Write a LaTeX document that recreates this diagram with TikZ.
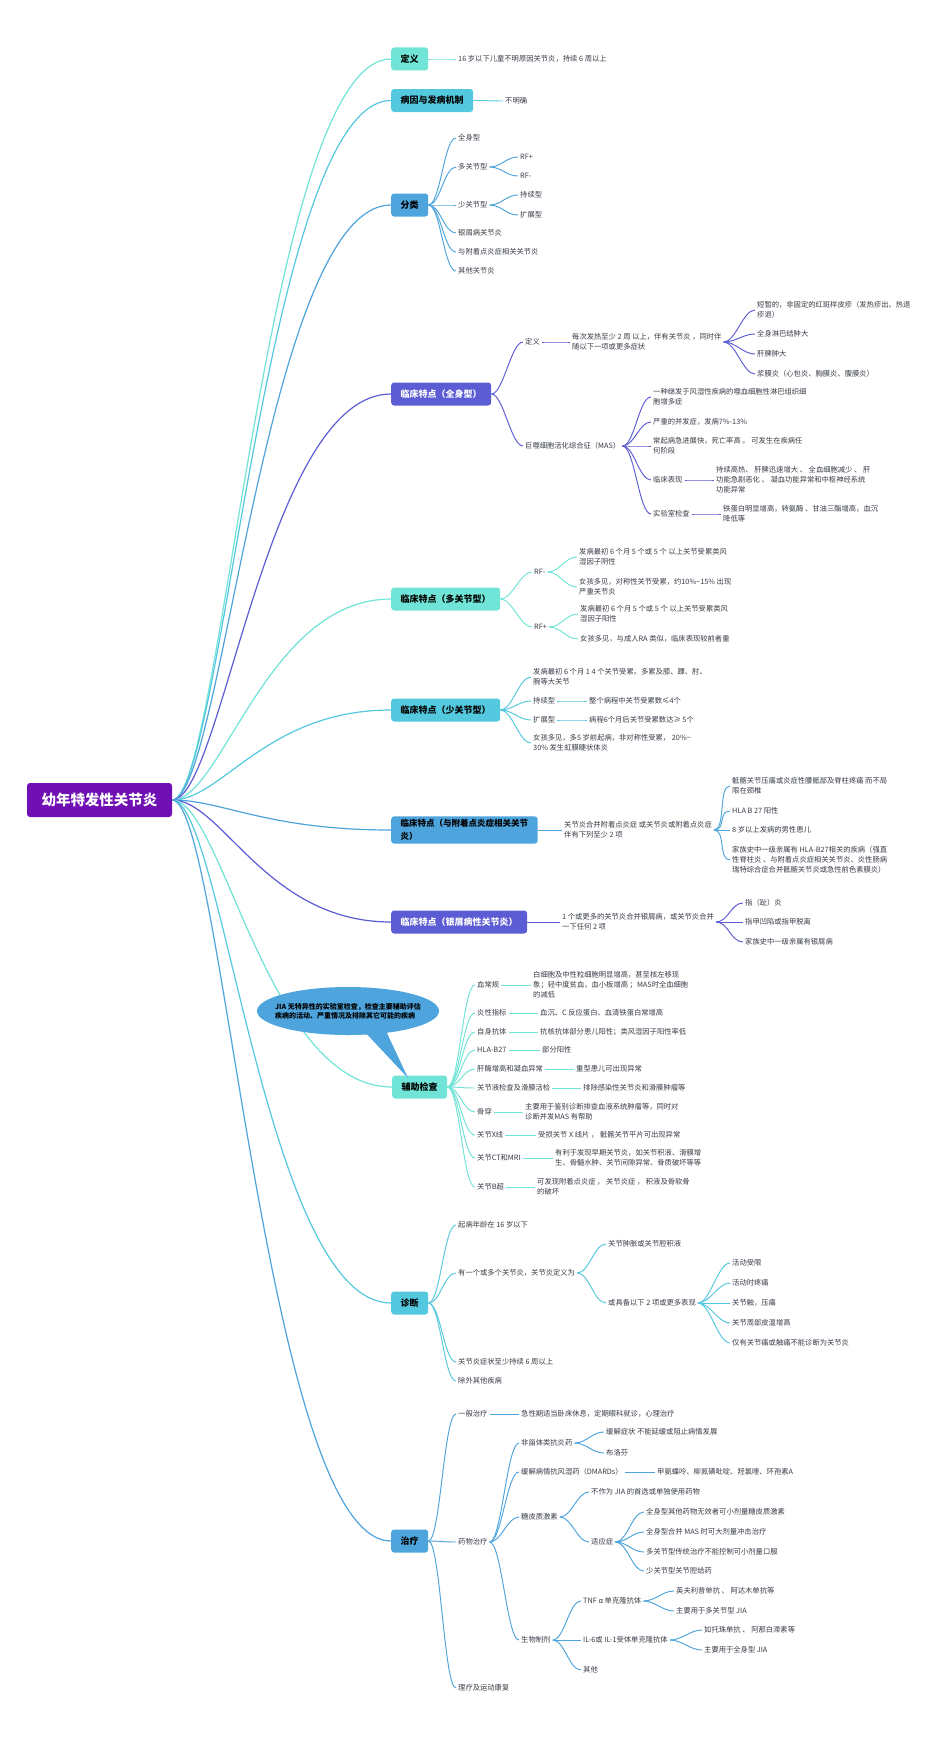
\documentclass[tikz,border=0pt]{standalone}
\usepackage{fontspec}
\setmainfont{Noto Sans CJK SC}
\usetikzlibrary{backgrounds}
\definecolor{cTeal}{RGB}{112,228,214}
\definecolor{cCyan}{RGB}{84,200,222}
\definecolor{cBlue}{RGB}{78,164,220}
\definecolor{cInd}{RGB}{92,92,212}
\definecolor{cRoot}{RGB}{112,16,180}
\definecolor{cTxt}{RGB}{55,60,70}
\tikzset{
  mbox/.style={rounded corners=3pt, anchor=west, inner xsep=9.5pt, inner ysep=3pt, minimum height=23pt, font=\bfseries\fontsize{9}{13}\selectfont, text=black, align=left},
  leaf/.style={anchor=west, inner xsep=2pt, inner ysep=1pt, align=left, text=cTxt, font=\fontsize{7.3}{10}\selectfont},
  lk/.style={line width=0.95pt},
  rootbox/.style={rounded corners=3pt, fill=cRoot, text=white, font=\bfseries\fontsize{14.5}{16}\selectfont, minimum width=145pt, minimum height=34pt},
  bubtext/.style={align=left, text=black, font=\bfseries\fontsize{7}{9.3}\selectfont}
}
\newcommand\lk[3]{\draw[lk,#1] (#2.east) .. controls +(12,0) and +(-12,0) .. (#3.west);}
\newcommand\rk[2]{\draw[line width=1.2pt,#1] (root.east) .. controls +(50,0) and +(-125,0) .. (#2.west);}
\begin{document}
\begin{tikzpicture}[x=1pt,y=-1pt]
\useasboundingbox (0,0) rectangle (950,1745);
% root
\node[rootbox] (root) at (99.5,800) {幼年特发性关节炎};
% main boxes
\node[mbox, fill=cTeal] (b1) at (391,59) {定义};
\node[mbox, fill=cCyan] (b2) at (391,100.5) {病因与发病机制};
\node[mbox, fill=cBlue] (b3) at (391,205) {分类};
\node[mbox, fill=cInd, text=white] (b4) at (391,394) {临床特点（全身型）};
\node[mbox, fill=cTeal] (b5) at (391,599) {临床特点（多关节型）};
\node[mbox, fill=cCyan] (b6) at (391,710) {临床特点（少关节型）};
\node[mbox, fill=cBlue, font=\bfseries\fontsize{8.5}{13}\selectfont] (b7) at (391,830) {临床特点（与附着点炎症相关关节\\炎）};
\node[mbox, fill=cInd, text=white] (b8) at (391,922) {临床特点（银屑病性关节炎）};
\node[mbox, fill=cTeal] (b9) at (392,1087) {辅助检查};
\node[mbox, fill=cCyan] (b10) at (391,1303) {诊断};
\node[mbox, fill=cBlue] (b11) at (391,1541) {治疗};
% branch 1,2
\node[leaf] (d1) at (456,59) {16 岁以下儿童不明原因关节炎，持续 6 周以上};
\node[leaf] (e1) at (503,101) {不明确};
% branch 3
\node[leaf] (c1) at (456,138) {全身型};
\node[leaf] (c2) at (456,167) {多关节型};
\node[leaf] (c21) at (518,157) {RF+};
\node[leaf] (c22) at (518,176) {RF-};
\node[leaf] (c3) at (456,205) {少关节型};
\node[leaf] (c31) at (518,195) {持续型};
\node[leaf] (c32) at (518,215) {扩展型};
\node[leaf] (c4) at (456,233) {银屑病关节炎};
\node[leaf] (c5) at (456,252) {与附着点炎症相关关节炎};
\node[leaf] (c6) at (456,271) {其他关节炎};
% branch 4
\node[leaf] (s1) at (523,342) {定义};
\node[leaf] (s11) at (570,342) {每次发热至少 2 周 以上，伴有关节炎 ，同时伴\\随以下一项或更多症状};
\node[leaf] (s111) at (755,310) {短暂的，非固定的红斑样皮疹（发热疹出、热退\\疹退）};
\node[leaf] (s112) at (755,334) {全身淋巴结肿大};
\node[leaf] (s113) at (755,354) {肝脾肿大};
\node[leaf] (s114) at (755,374) {浆膜炎（心包炎、胸膜炎、腹膜炎）};
\node[leaf] (s2) at (523,446) {巨噬细胞活化综合征（MAS）};
\node[leaf] (s21) at (651,397) {一种继发于风湿性疾病的噬血细胞性淋巴组织细\\胞增多症};
\node[leaf] (s22) at (651,422) {严重的并发症，发病7\%-13\%};
\node[leaf] (s23) at (651,446) {常起病急进展快，死亡率高 。 可发生在疾病任\\何阶段};
\node[leaf] (s24) at (651,480) {临床表现};
\node[leaf] (s241) at (714,480) {持续高热、 肝脾迅速增大 、 全血细胞减少 、 肝\\功能急剧恶化 、 凝血功能异常和中枢神经系统\\功能异常};
\node[leaf] (s25) at (651,514) {实验室检查};
\node[leaf] (s251) at (721,514) {铁蛋白明显增高，转氨酶 、甘油三酯增高，血沉\\降低等};
% branch 5
\node[leaf] (p1) at (532,572) {RF-};
\node[leaf] (p11) at (577,557) {发病最初 6 个月 5 个或 5 个 以上关节受累类风\\湿因子阴性};
\node[leaf] (p12) at (577,587) {女孩多见，对称性关节受累，约10\%\textasciitilde15\% 出现\\严重关节炎};
\node[leaf] (p2) at (532,627) {RF+};
\node[leaf] (p21) at (578,614) {发病最初 6 个月 5 个或 5 个 以上关节受累类风\\湿因子阳性};
\node[leaf] (p22) at (578,639) {女孩多见，与成人RA 类似，临床表现较前者重};
% branch 6
\node[leaf] (o1) at (531,677) {发病最初 6 个月 1 4 个关节受累。多累及膝、踝、肘、\\腕等大关节};
\node[leaf] (o2) at (531,701) {持续型};
\node[leaf] (o21) at (587,701) {整个病程中关节受累数≤4个};
\node[leaf] (o3) at (531,720) {扩展型};
\node[leaf] (o31) at (587,720) {病程6个月后关节受累数达≥ 5个};
\node[leaf] (o4) at (531,743) {女孩多见，多5 岁前起病，非对称性受累， 20\%\textasciitilde\\30\% 发生虹膜睫状体炎};
% branch 7
\node[leaf] (n1) at (562,830) {关节炎合并附着点炎症 或关节炎或附着点炎症\\伴有下列至少 2 项};
\node[leaf] (n11) at (730,786) {骶髂关节压痛或炎症性腰骶部及脊柱疼痛 而不局\\限在颈椎};
\node[leaf] (n12) at (730,811) {HLA B 27 阳性};
\node[leaf] (n13) at (730,830) {8 岁以上发病的男性患儿};
\node[leaf] (n14) at (730,860) {家族史中一级亲属有 HLA-B27相关的疾病（强直\\性脊柱炎 、与附着点炎症相关关节炎、炎性肠病\\瑞特综合症合并骶髂关节炎或急性前色素膜炎）};
% branch 8
\node[leaf] (q1) at (560,922) {1 个或更多的关节炎合并银屑病，或关节炎合并\\一下任何 2 项};
\node[leaf] (q11) at (743,903) {指（趾）炎};
\node[leaf] (q12) at (743,922) {指甲凹陷或指甲脱离};
\node[leaf] (q13) at (743,942) {家族史中一级亲属有银屑病};
% branch 9
\node[leaf] (a1) at (475,985) {血常规};
\node[leaf] (a11) at (531,985) {白细胞及中性粒细胞明显增高，甚至核左移现\\象；轻中度贫血，血小板增高 ；MAS时全血细胞\\的减低};
\node[leaf] (a2) at (475,1013) {炎性指标};
\node[leaf] (a21) at (538,1013) {血沉、C 反应蛋白、血清铁蛋白常增高};
\node[leaf] (a3) at (475,1032) {自身抗体};
\node[leaf] (a31) at (538,1032) {抗核抗体部分患儿阳性；类风湿因子阳性率低};
\node[leaf] (a4) at (475,1050) {HLA-B27};
\node[leaf] (a41) at (540,1050) {部分阳性};
\node[leaf] (a5) at (475,1069) {肝酶增高和凝血异常};
\node[leaf] (a51) at (574,1069) {重型患儿可出现异常};
\node[leaf] (a6) at (475,1088) {关节液检查及滑膜活检};
\node[leaf] (a61) at (581,1088) {排除感染性关节炎和滑膜肿瘤等};
\node[leaf] (a7) at (475,1112) {骨穿};
\node[leaf] (a71) at (523,1112) {主要用于鉴别诊断排查血液系统肿瘤等，同时对\\诊断并发MAS 有帮助};
\node[leaf] (a8) at (475,1135) {关节X线};
\node[leaf] (a81) at (536,1135) {受损关节 X 线片 ， 骶髂关节平片可出现异常};
\node[leaf] (a9) at (475,1158) {关节CT和MRI};
\node[leaf] (a91) at (553,1158) {有利于发现早期关节炎，如关节积液、滑膜增\\生、骨髓水肿、关节间隙异常、骨质破坏等等};
\node[leaf] (a10) at (475,1187) {关节B超};
\node[leaf] (a101) at (535,1187) {可发现附着点炎症 ， 关节炎症 ， 积液及骨软骨\\的破坏};
% branch 10
\node[leaf] (g1) at (456,1225) {起病年龄在 16 岁以下};
\node[leaf] (g2) at (456,1273) {有一个或多个关节炎，关节炎定义为};
\node[leaf] (g21) at (606,1244) {关节肿胀或关节腔积液};
\node[leaf] (g22) at (606,1303) {或具备以下 2 项或更多表现};
\node[leaf] (g221) at (730,1263) {活动受限};
\node[leaf] (g222) at (730,1283) {活动时疼痛};
\node[leaf] (g223) at (730,1303) {关节触，压痛};
\node[leaf] (g224) at (730,1323) {关节周部皮温增高};
\node[leaf] (g225) at (730,1343) {仅有关节痛或触痛不能诊断为关节炎};
\node[leaf] (g3) at (456,1362) {关节炎症状至少持续 6 周以上};
\node[leaf] (g4) at (456,1381) {除外其他疾病};
% branch 11
\node[leaf] (t1) at (456,1414) {一般治疗};
\node[leaf] (t11) at (519,1414) {急性期适当卧床休息，定期眼科就诊，心理治疗};
\node[leaf] (t2) at (456,1542) {药物治疗};
\node[leaf] (t21) at (519,1443) {非甾体类抗炎药};
\node[leaf] (t211) at (604,1432) {缓解症状 不能延缓或阻止病情发展};
\node[leaf] (t212) at (604,1453) {布洛芬};
\node[leaf] (t22) at (519,1472) {缓解病情抗风湿药（DMARDs）};
\node[leaf] (t221) at (655,1472) {甲氨蝶呤、柳氮磺吡啶、羟氯喹、环孢素A};
\node[leaf] (t23) at (519,1517) {糖皮质激素};
\node[leaf] (t231) at (589,1492) {不作为 JIA 的首选或单独使用药物};
\node[leaf] (t232) at (589,1542) {适应症};
\node[leaf] (t2321) at (644,1512) {全身型其他药物无效者可小剂量糖皮质激素};
\node[leaf] (t2322) at (644,1532) {全身型合并 MAS 时可大剂量冲击治疗};
\node[leaf] (t2323) at (644,1552) {多关节型传统治疗不能控制可小剂量口服};
\node[leaf] (t2324) at (644,1571) {少关节型关节腔给药};
\node[leaf] (t24) at (519,1640) {生物制剂};
\node[leaf] (t241) at (581,1601) {TNF α 单克隆抗体};
\node[leaf] (t2411) at (674,1591) {英夫利昔单抗 、 阿达木单抗等};
\node[leaf] (t2412) at (674,1611) {主要用于多关节型 JIA};
\node[leaf] (t242) at (581,1640) {IL-6或 IL-1受体单克隆抗体};
\node[leaf] (t2421) at (702,1630) {如托珠单抗 、 阿那白滞素等};
\node[leaf] (t2422) at (702,1650) {主要用于全身型 JIA};
\node[leaf] (t243) at (581,1670) {其他};
\node[leaf] (t3) at (456,1688) {理疗及运动康复};
% bubble
\fill[cBlue] (348,1011) ellipse [x radius=91pt, y radius=24pt];
\fill[cBlue] (362,1029) -- (408,1078) -- (386,1031) -- cycle;
\node[bubtext] (bub) at (348,1011) {JIA 无特异性的实验室检查，检查主要辅助评估\\疾病的活动、严重情况及排除其它可能的疾病};
% connectors
\begin{scope}[on background layer]
\fill[white] (0,0) rectangle (950,1745);
\rk{cTeal}{b1}
\rk{cCyan}{b2}
\rk{cBlue}{b3}
\rk{cInd}{b4}
\rk{cTeal}{b5}
\rk{cCyan}{b6}
\rk{cBlue}{b7}
\rk{cInd}{b8}
\rk{cTeal}{b9}
\rk{cCyan}{b10}
\rk{cBlue}{b11}
\lk{cTeal}{b1}{d1}
\lk{cCyan}{b2}{e1}
\foreach \c in {c1,c2,c3,c4,c5,c6} {\lk{cBlue}{b3}{\c}}
\lk{cBlue}{c2}{c21} \lk{cBlue}{c2}{c22}
\lk{cBlue}{c3}{c31} \lk{cBlue}{c3}{c32}
\lk{cInd}{b4}{s1} \lk{cInd}{b4}{s2}
\lk{cInd}{s1}{s11}
\foreach \c in {s111,s112,s113,s114} {\lk{cInd}{s11}{\c}}
\foreach \c in {s21,s22,s23,s24,s25} {\lk{cInd}{s2}{\c}}
\lk{cInd}{s24}{s241} \lk{cInd}{s25}{s251}
\lk{cTeal}{b5}{p1} \lk{cTeal}{b5}{p2}
\lk{cTeal}{p1}{p11} \lk{cTeal}{p1}{p12}
\lk{cTeal}{p2}{p21} \lk{cTeal}{p2}{p22}
\foreach \c in {o1,o2,o3,o4} {\lk{cCyan}{b6}{\c}}
\lk{cCyan}{o2}{o21} \lk{cCyan}{o3}{o31}
\lk{cBlue}{b7}{n1}
\foreach \c in {n11,n12,n13,n14} {\lk{cBlue}{n1}{\c}}
\lk{cInd}{b8}{q1}
\foreach \c in {q11,q12,q13} {\lk{cInd}{q1}{\c}}
\foreach \c in {a1,a2,a3,a4,a5,a6,a7,a8,a9,a10} {\lk{cTeal}{b9}{\c}}
\lk{cTeal}{a1}{a11} \lk{cTeal}{a2}{a21} \lk{cTeal}{a3}{a31} \lk{cTeal}{a4}{a41} \lk{cTeal}{a5}{a51}
\lk{cTeal}{a6}{a61} \lk{cTeal}{a7}{a71} \lk{cTeal}{a8}{a81} \lk{cTeal}{a9}{a91} \lk{cTeal}{a10}{a101}
\foreach \c in {g1,g2,g3,g4} {\lk{cCyan}{b10}{\c}}
\lk{cCyan}{g2}{g21} \lk{cCyan}{g2}{g22}
\foreach \c in {g221,g222,g223,g224,g225} {\lk{cCyan}{g22}{\c}}
\foreach \c in {t1,t2,t3} {\lk{cBlue}{b11}{\c}}
\lk{cBlue}{t1}{t11}
\foreach \c in {t21,t22,t23,t24} {\lk{cBlue}{t2}{\c}}
\lk{cBlue}{t21}{t211} \lk{cBlue}{t21}{t212}
\lk{cBlue}{t22}{t221}
\lk{cBlue}{t23}{t231} \lk{cBlue}{t23}{t232}
\foreach \c in {t2321,t2322,t2323,t2324} {\lk{cBlue}{t232}{\c}}
\foreach \c in {t241,t242,t243} {\lk{cBlue}{t24}{\c}}
\lk{cBlue}{t241}{t2411} \lk{cBlue}{t241}{t2412}
\lk{cBlue}{t242}{t2421} \lk{cBlue}{t242}{t2422}
\end{scope}
\end{tikzpicture}
\end{document}
